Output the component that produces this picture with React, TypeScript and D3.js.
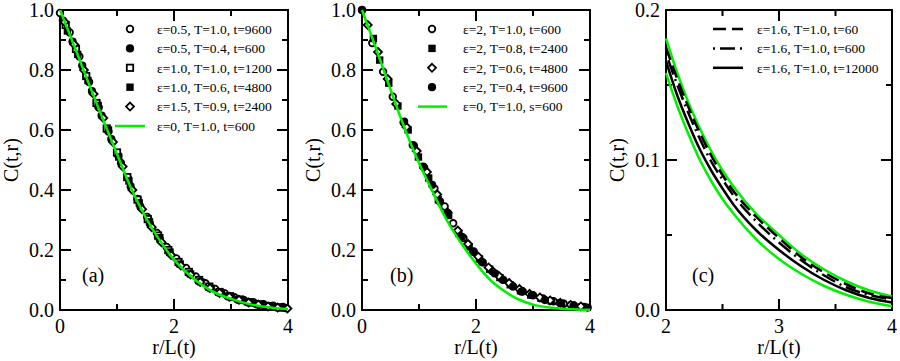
import React from "react";
import * as d3 from "d3";

// ---- data ----
// panel (a): eps=0 reference curve
const greenA_r = [0, 0.25, 0.5, 0.75, 1.0, 1.25, 1.5, 1.75, 2.0, 2.25, 2.5, 2.75, 3.0, 3.25, 3.5, 3.75, 4.0];
const greenA_c = [1.0, 0.88, 0.757, 0.637, 0.52, 0.405, 0.31, 0.232, 0.168, 0.12, 0.082, 0.055, 0.037, 0.023, 0.013, 0.007, 0.003];

const a1_r = [0, 0.17, 0.34, 0.51, 0.68, 0.85, 1.02, 1.19, 1.36, 1.53, 1.7, 1.87, 2.04, 2.21, 2.38, 2.55, 2.72, 2.89, 3.06, 3.23, 3.4, 3.57, 3.74, 3.91];
const a1_c = [0.99, 0.925, 0.845, 0.76, 0.675, 0.595, 0.515, 0.44, 0.37, 0.31, 0.257, 0.21, 0.172, 0.14, 0.112, 0.089, 0.07, 0.055, 0.043, 0.033, 0.025, 0.019, 0.014, 0.01];
const a2_r = [0.05, 0.22, 0.39, 0.56, 0.73, 0.9, 1.07, 1.24, 1.41, 1.58, 1.75, 1.92, 2.09, 2.26, 2.43, 2.6, 2.77, 2.94, 3.11, 3.28, 3.45, 3.62, 3.79, 3.96];
const a2_c = [0.965, 0.895, 0.815, 0.73, 0.648, 0.57, 0.49, 0.412, 0.345, 0.287, 0.236, 0.192, 0.155, 0.123, 0.097, 0.076, 0.059, 0.046, 0.035, 0.026, 0.019, 0.013, 0.009, 0.006];
const a3_r = [0.1, 0.28, 0.46, 0.64, 0.82, 1.0, 1.18, 1.36, 1.54, 1.72, 1.9, 2.08, 2.26, 2.44, 2.62, 2.8, 2.98, 3.16, 3.34, 3.52, 3.7, 3.88];
const a3_c = [0.95, 0.87, 0.78, 0.69, 0.605, 0.525, 0.443, 0.368, 0.303, 0.248, 0.2, 0.16, 0.127, 0.1, 0.078, 0.06, 0.046, 0.035, 0.026, 0.019, 0.013, 0.009];
const a4_r = [0.13, 0.31, 0.49, 0.67, 0.85, 1.03, 1.21, 1.39, 1.57, 1.75, 1.93, 2.11, 2.29, 2.47, 2.65, 2.83, 3.01, 3.19, 3.37, 3.55, 3.73, 3.91];
const a4_c = [0.93, 0.852, 0.765, 0.682, 0.6, 0.51, 0.43, 0.357, 0.294, 0.241, 0.193, 0.153, 0.12, 0.094, 0.072, 0.056, 0.042, 0.032, 0.024, 0.017, 0.011, 0.007];
const a5_r = [0.08, 0.25, 0.42, 0.59, 0.76, 0.93, 1.1, 1.27, 1.44, 1.61, 1.78, 1.95, 2.12, 2.29, 2.46, 2.63, 2.8, 2.97, 3.14, 3.31, 3.48, 3.65, 3.82, 3.99];
const a5_c = [0.96, 0.885, 0.8, 0.72, 0.64, 0.56, 0.478, 0.4, 0.336, 0.276, 0.226, 0.183, 0.148, 0.118, 0.093, 0.073, 0.057, 0.044, 0.034, 0.025, 0.018, 0.012, 0.008, 0.005];

// panel (b)
const greenB_r = [0, 0.25, 0.5, 0.75, 1.0, 1.25, 1.5, 1.75, 2.0, 2.25, 2.5, 2.75, 3.0, 3.25, 3.5, 3.75, 4.0];
const greenB_c = [1.0, 0.87, 0.735, 0.605, 0.49, 0.39, 0.295, 0.22, 0.155, 0.1, 0.063, 0.035, 0.018, 0.009, 0.004, 0.002, 0.001];

const b1_r = [0, 0.18, 0.37, 0.54, 0.73, 0.91, 1.09, 1.27, 1.45, 1.6, 1.78, 1.96, 2.1, 2.28, 2.46, 2.64, 2.82, 3.0, 3.18, 3.36, 3.54, 3.72, 3.9];
const b1_c = [1.0, 0.89, 0.794, 0.711, 0.625, 0.548, 0.475, 0.405, 0.345, 0.289, 0.24, 0.195, 0.161, 0.13, 0.102, 0.08, 0.062, 0.049, 0.038, 0.029, 0.021, 0.015, 0.01];
const b2_r = [0.2, 0.31, 0.47, 0.63, 0.81, 0.99, 1.17, 1.34, 1.52, 1.7, 1.88, 2.06, 2.24, 2.42, 2.6, 2.78, 2.96, 3.14, 3.32, 3.5, 3.68, 3.86];
const b2_c = [0.905, 0.833, 0.756, 0.68, 0.6, 0.51, 0.44, 0.367, 0.315, 0.255, 0.21, 0.17, 0.136, 0.108, 0.084, 0.064, 0.05, 0.039, 0.03, 0.022, 0.016, 0.011];
const b3_r = [0.1, 0.28, 0.45, 0.6, 0.78, 0.96, 1.14, 1.32, 1.5, 1.68, 1.86, 2.04, 2.22, 2.4, 2.58, 2.76, 2.94, 3.12, 3.3, 3.48, 3.66, 3.84];
const b3_c = [0.95, 0.86, 0.77, 0.687, 0.61, 0.53, 0.46, 0.385, 0.325, 0.265, 0.22, 0.178, 0.142, 0.114, 0.09, 0.07, 0.054, 0.042, 0.032, 0.024, 0.017, 0.012];
const b4_r = [0, 0.74, 0.89, 1.07, 1.23, 1.37, 1.51, 1.75, 1.95, 2.12, 2.33, 2.48, 2.65, 2.8, 2.98, 3.21, 3.47, 3.71, 3.96];
const b4_c = [1.0, 0.628, 0.55, 0.478, 0.417, 0.361, 0.322, 0.244, 0.194, 0.158, 0.122, 0.1, 0.078, 0.061, 0.05, 0.033, 0.024, 0.013, 0.008];

// panel (c)
const c_r = [2.0, 2.1, 2.2, 2.3, 2.4, 2.5, 2.6, 2.8, 3.0, 3.2, 3.4, 3.6, 3.8, 4.0];
const cGreenLow = [0.158, 0.136, 0.117, 0.1, 0.086, 0.074, 0.064, 0.047, 0.034, 0.024, 0.016, 0.01, 0.0055, 0.0025];
const cSolid = [0.166, 0.143, 0.124, 0.107, 0.093, 0.081, 0.07, 0.053, 0.04, 0.029, 0.02, 0.013, 0.008, 0.005];
const cDashDot = [0.171, 0.15, 0.131, 0.114, 0.099, 0.087, 0.076, 0.059, 0.045, 0.033, 0.023, 0.015, 0.01, 0.007];
const cDashed = [0.175, 0.154, 0.135, 0.118, 0.103, 0.09, 0.079, 0.062, 0.048, 0.035, 0.025, 0.017, 0.011, 0.008];
const cGreenHigh = [0.181, 0.158, 0.138, 0.121, 0.106, 0.093, 0.082, 0.064, 0.05, 0.037, 0.027, 0.019, 0.013, 0.009];

// ticks
const xMajorAB = [0, 2, 4];
const xMinorAB = [1, 3];
const yMajorAB = [0, 0.2, 0.4, 0.6, 0.8, 1.0];
const yMinorAB = [0.1, 0.3, 0.5, 0.7, 0.9];
const xMajorC = [2, 3, 4];
const xMinorC = [2.5, 3.5];
const yMajorC = [0, 0.1, 0.2];
const yMinorC = [0.05, 0.15];

const legendA = [
  "ε=0.5, T=1.0, t=9600",
  "ε=0.5, T=0.4, t=600",
  "ε=1.0, T=1.0, t=1200",
  "ε=1.0, T=0.6, t=4800",
  "ε=1.5, T=0.9, t=2400",
  "ε=0, T=1.0, t=600",
];
const legendB = [
  "ε=2, T=1.0, t=600",
  "ε=2, T=0.8, t=2400",
  "ε=2, T=0.6, t=4800",
  "ε=2, T=0.4, t=9600",
  "ε=0, T=1.0, s=600",
];
const legendC = [
  "ε=1.6, T=1.0, t=60",
  "ε=1.6, T=1.0, t=600",
  "ε=1.6, T=1.0, t=12000",
];

const FONT = "'Liberation Serif', 'Times New Roman', serif";
const GREEN = "#00f000";
const TOP = 10;
const BOTTOM = 310;

const zip = (xs, ys) => xs.map((x, i) => [x, ys[i]]);

const Marker = ({ x, y, kind }) => {
  if (kind === "circleOpen")
    return <circle cx={x} cy={y} r={3.3} fill="#fff" stroke="#000" strokeWidth={1.8} />;
  if (kind === "circleFilled") return <circle cx={x} cy={y} r={4.1} fill="#000" />;
  if (kind === "squareOpen")
    return <rect x={x - 3.2} y={y - 3.2} width={6.4} height={6.4} fill="#fff" stroke="#000" strokeWidth={1.8} />;
  if (kind === "squareFilled") return <rect x={x - 3.7} y={y - 3.7} width={7.4} height={7.4} fill="#000" />;
  // open diamond
  return (
    <path
      d={`M${x},${y - 4}L${x + 4},${y}L${x},${y + 4}L${x - 4},${y}Z`}
      fill="#fff"
      stroke="#000"
      strokeWidth={1.8}
    />
  );
};

const Frame = ({ x, y, xMajor, xMinor, yMajor, yMinor, fmtY, label, labelX }) => {
  const [l, r] = x.range();
  const MAJ = 11;
  const MIN = 6;
  return (
    <g fontFamily={FONT} fill="#000">
      <rect x={l} y={TOP} width={r - l} height={BOTTOM - TOP} fill="none" stroke="#000" strokeWidth={2} />
      {xMajor.map((v) => (
        <g key={"xM" + v}>
          <line x1={x(v)} x2={x(v)} y1={BOTTOM} y2={BOTTOM - MAJ} stroke="#000" strokeWidth={2} />
          <line x1={x(v)} x2={x(v)} y1={TOP} y2={TOP + MAJ} stroke="#000" strokeWidth={2} />
          <text x={x(v)} y={333} textAnchor="middle" fontSize={20}>
            {v}
          </text>
        </g>
      ))}
      {xMinor.map((v) => (
        <g key={"xm" + v}>
          <line x1={x(v)} x2={x(v)} y1={BOTTOM} y2={BOTTOM - MIN} stroke="#000" strokeWidth={2} />
          <line x1={x(v)} x2={x(v)} y1={TOP} y2={TOP + MIN} stroke="#000" strokeWidth={2} />
        </g>
      ))}
      {yMajor.map((v) => (
        <g key={"yM" + v}>
          <line x1={l} x2={l + MAJ} y1={y(v)} y2={y(v)} stroke="#000" strokeWidth={2} />
          <line x1={r} x2={r - MAJ} y1={y(v)} y2={y(v)} stroke="#000" strokeWidth={2} />
          <text x={l - 6} y={y(v)} dy="0.35em" textAnchor="end" fontSize={20}>
            {fmtY(v)}
          </text>
        </g>
      ))}
      {yMinor.map((v) => (
        <g key={"ym" + v}>
          <line x1={l} x2={l + MIN} y1={y(v)} y2={y(v)} stroke="#000" strokeWidth={2} />
          <line x1={r} x2={r - MIN} y1={y(v)} y2={y(v)} stroke="#000" strokeWidth={2} />
        </g>
      ))}
      <text x={(l + r) / 2} y={354} textAnchor="middle" fontSize={20}>
        r/L(t)
      </text>
      <text
        transform={`translate(${l - 49},${(TOP + BOTTOM) / 2}) rotate(-90)`}
        dy="0.35em"
        textAnchor="middle"
        fontSize={20}
      >
        C(t,r)
      </text>
      <text x={labelX} y={282} fontSize={20}>
        {label}
      </text>
    </g>
  );
};

export default function App() {
  const yAB = d3.scaleLinear().domain([0, 1]).range([BOTTOM, TOP]);
  const xA = d3.scaleLinear().domain([0, 4]).range([60, 288]);
  const xB = d3.scaleLinear().domain([0, 4]).range([362, 590]);
  const xC = d3.scaleLinear().domain([2, 4]).range([666, 892]);
  const yC = d3.scaleLinear().domain([0, 0.2]).range([BOTTOM, TOP]);

  const lineA = d3.line().x((d) => xA(d[0])).y((d) => yAB(d[1])).curve(d3.curveCatmullRom);
  const lineB = d3.line().x((d) => xB(d[0])).y((d) => yAB(d[1])).curve(d3.curveCatmullRom);
  const lineC = d3.line().x((d) => xC(d[0])).y((d) => yC(d[1])).curve(d3.curveMonotoneX);

  const seriesA = [
    { r: a1_r, c: a1_c, kind: "circleOpen" },
    { r: a2_r, c: a2_c, kind: "circleFilled" },
    { r: a3_r, c: a3_c, kind: "squareOpen" },
    { r: a4_r, c: a4_c, kind: "squareFilled" },
    { r: a5_r, c: a5_c, kind: "diamondOpen" },
  ];
  const seriesB = [
    { r: b1_r, c: b1_c, kind: "circleOpen" },
    { r: b2_r, c: b2_c, kind: "squareFilled" },
    { r: b3_r, c: b3_c, kind: "diamondOpen" },
    { r: b4_r, c: b4_c, kind: "circleFilled" },
  ];
  const linesC = [
    { c: cDashed, dash: "13,6" },
    { c: cDashDot, dash: "2,5,15,5" },
    { c: cSolid, dash: null },
  ];

  const fmt1 = d3.format(".1f");
  const legRow = (i) => 29 + i * 19.4;

  return (
    <svg width={900} height={361} style={{ position: "absolute", left: 0, top: 0, background: "#fff" }}>
      <rect width={900} height={361} fill="#fff" />

      {/* panel (a) */}
      <Frame x={xA} y={yAB} xMajor={xMajorAB} xMinor={xMinorAB} yMajor={yMajorAB} yMinor={yMinorAB} fmtY={fmt1} label="(a)" labelX={82} />
      {seriesA.map((s, si) =>
        s.r.map((r, i) => <Marker key={`a${si}-${i}`} x={xA(r)} y={yAB(s.c[i])} kind={s.kind} />)
      )}
      <path d={lineA(zip(greenA_r, greenA_c))} fill="none" stroke={GREEN} strokeWidth={2.5} />
      <g fontFamily={FONT} fontSize={13.5}>
        {legendA.map((t, i) => (
          <g key={t}>
            {i < 5 ? (
              <Marker x={130} y={legRow(i)} kind={seriesA[i].kind} />
            ) : (
              <line x1={115} x2={145} y1={legRow(i)} y2={legRow(i)} stroke={GREEN} strokeWidth={2.5} />
            )}
            <text x={157} y={legRow(i)} dy="0.35em">
              {t}
            </text>
          </g>
        ))}
      </g>

      {/* panel (b) */}
      <Frame x={xB} y={yAB} xMajor={xMajorAB} xMinor={xMinorAB} yMajor={yMajorAB} yMinor={yMinorAB} fmtY={fmt1} label="(b)" labelX={390} />
      {seriesB.map((s, si) =>
        s.r.map((r, i) => <Marker key={`b${si}-${i}`} x={xB(r)} y={yAB(s.c[i])} kind={s.kind} />)
      )}
      <path d={lineB(zip(greenB_r, greenB_c))} fill="none" stroke={GREEN} strokeWidth={2.5} />
      <g fontFamily={FONT} fontSize={13.5}>
        {legendB.map((t, i) => (
          <g key={t}>
            {i < 4 ? (
              <Marker x={432} y={legRow(i)} kind={seriesB[i].kind} />
            ) : (
              <line x1={418} x2={447} y1={legRow(i)} y2={legRow(i)} stroke={GREEN} strokeWidth={2.5} />
            )}
            <text x={463} y={legRow(i)} dy="0.35em">
              {t}
            </text>
          </g>
        ))}
      </g>

      {/* panel (c) */}
      <Frame x={xC} y={yC} xMajor={xMajorC} xMinor={xMinorC} yMajor={yMajorC} yMinor={yMinorC} fmtY={fmt1} label="(c)" labelX={692} />
      <path d={lineC(zip(c_r, cGreenLow))} fill="none" stroke={GREEN} strokeWidth={2.5} />
      <path d={lineC(zip(c_r, cGreenHigh))} fill="none" stroke={GREEN} strokeWidth={2.5} />
      {linesC.map((l, i) => (
        <path
          key={"c" + i}
          d={lineC(zip(c_r, l.c))}
          fill="none"
          stroke="#000"
          strokeWidth={2.5}
          strokeDasharray={l.dash || undefined}
        />
      ))}
      <g fontFamily={FONT} fontSize={13.5}>
        {legendC.map((t, i) => (
          <g key={t}>
            <line
              x1={713}
              x2={743}
              y1={legRow(i)}
              y2={legRow(i)}
              stroke="#000"
              strokeWidth={2.5}
              strokeDasharray={linesC[i].dash || undefined}
            />
            <text x={757} y={legRow(i)} dy="0.35em">
              {t}
            </text>
          </g>
        ))}
      </g>
    </svg>
  );
}
